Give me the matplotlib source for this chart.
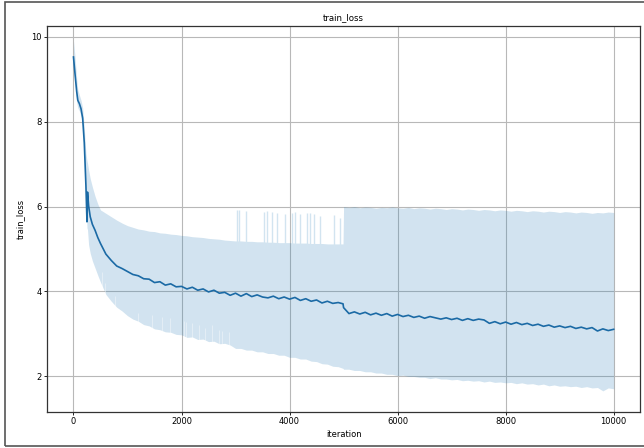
import numpy as np
import matplotlib
matplotlib.use('Agg')
import matplotlib.pyplot as plt
from matplotlib.patches import Rectangle

#iterations where the loss was sampled
iter_early = [0, 30, 60, 80, 110, 140, 170, 200, 230, 250, 260, 280, 310, 350, 400, 450]
iteration = np.array(iter_early + list(range(500, 5000, 100)) + [4990] + list(range(5000, 10001, 100)))

#mean train loss
mean_loss = [
    9.52, 9.10, 8.70, 8.50, 8.42, 8.30, 8.08, 7.50, 6.50, 5.64, 6.34, 6.02, 5.76, 5.58, 5.44, 5.27,
    5.13, 4.88, 4.73, 4.60, 4.54,
    4.47, 4.40, 4.37, 4.30, 4.29, 4.21, 4.23, 4.15, 4.18, 4.11,
    4.12, 4.06, 4.10, 4.03, 4.06, 3.99, 4.03, 3.96, 3.98, 3.91,
    3.96, 3.89, 3.95, 3.88, 3.92, 3.87, 3.85, 3.89, 3.83, 3.87,
    3.82, 3.86, 3.79, 3.83, 3.77, 3.80, 3.73, 3.77, 3.72, 3.74,
    3.71,
    3.62, 3.48, 3.52, 3.47, 3.51, 3.45, 3.49, 3.44, 3.48, 3.42,
    3.46, 3.41, 3.44, 3.39, 3.42, 3.37, 3.41, 3.38, 3.35, 3.38,
    3.34, 3.37, 3.32, 3.36, 3.32, 3.35, 3.33, 3.25, 3.29, 3.24,
    3.28, 3.23, 3.27, 3.22, 3.25, 3.20, 3.23, 3.18, 3.21, 3.16,
    3.19, 3.15, 3.18, 3.13, 3.16, 3.12, 3.15, 3.07, 3.12, 3.08,
    3.11]

#upper edge of the band
upper_loss = [
    9.90, 9.50, 9.00, 8.75, 8.62, 8.50, 8.32, 7.85, 7.25, 7.08, 7.02, 6.86, 6.66, 6.46, 6.24, 6.06,
    5.92, 5.84, 5.76, 5.68, 5.61,
    5.55, 5.51, 5.47, 5.45, 5.42, 5.41, 5.38, 5.37, 5.35, 5.34,
    5.32, 5.31, 5.29, 5.28, 5.27, 5.25, 5.24, 5.23, 5.21, 5.20,
    5.19, 5.19, 5.18, 5.18, 5.17, 5.17, 5.16, 5.16, 5.15, 5.15,
    5.15, 5.14, 5.14, 5.14, 5.13, 5.13, 5.13, 5.12, 5.12, 5.12,
    5.12,
    6.00, 5.98, 6.00, 5.97, 5.99, 5.98, 5.96, 5.98, 5.97, 5.99,
    5.97, 5.96, 5.98, 5.95, 5.97, 5.96, 5.94, 5.96, 5.95, 5.93,
    5.95, 5.94, 5.92, 5.94, 5.93, 5.91, 5.93, 5.92, 5.90, 5.92,
    5.91, 5.89, 5.91, 5.90, 5.88, 5.90, 5.89, 5.87, 5.89, 5.88,
    5.86, 5.88, 5.87, 5.85, 5.87, 5.86, 5.84, 5.86, 5.85, 5.87,
    5.86]

#lower edge of the band
lower_loss = [
    9.35, 8.90, 8.45, 8.32, 8.25, 8.12, 7.88, 7.20, 6.10, 5.50, 5.45, 5.10, 4.90, 4.72, 4.55, 4.38,
    4.22, 3.93, 3.77, 3.63, 3.54,
    3.43, 3.35, 3.30, 3.22, 3.19, 3.12, 3.10, 3.05, 3.04, 2.99,
    2.98, 2.92, 2.93, 2.87, 2.88, 2.82, 2.83, 2.77, 2.78, 2.74,
    2.66, 2.66, 2.62, 2.62, 2.58, 2.58, 2.54, 2.54, 2.50, 2.50,
    2.45, 2.45, 2.41, 2.41, 2.36, 2.35, 2.30, 2.29, 2.24, 2.23,
    2.19,
    2.17, 2.17, 2.14, 2.14, 2.11, 2.11, 2.08, 2.08, 2.05, 2.05,
    2.02, 2.03, 2.00, 2.00, 1.98, 1.98, 1.95, 1.97, 1.94, 1.94,
    1.92, 1.93, 1.90, 1.91, 1.89, 1.90, 1.87, 1.89, 1.86, 1.87,
    1.85, 1.86, 1.83, 1.85, 1.82, 1.83, 1.80, 1.82, 1.78, 1.80,
    1.77, 1.78, 1.76, 1.77, 1.74, 1.76, 1.73, 1.74, 1.66, 1.73,
    1.71]

#short spikes of the upper edge between 3000 and 5000
upper_spike_iter = [3030, 3070, 3190, 3520, 3590, 3670, 3770, 3920, 4050, 4110, 4190, 4320, 4380, 4460, 4570, 4830, 4940]
upper_spike_top = [5.92, 5.93, 5.90, 5.86, 5.90, 5.88, 5.85, 5.82, 5.84, 5.86, 5.83, 5.85, 5.84, 5.82, 5.78, 5.80, 5.74]

#short spikes of the lower edge between 500 and 3000
lower_spike_iter = [520, 590, 770, 1200, 1450, 1640, 1790, 2040, 2090, 2190, 2320, 2440, 2560, 2690, 2750, 2870]
lower_spike_base = [4.10, 3.85, 3.60, 3.25, 3.12, 3.05, 3.00, 2.90, 2.88, 2.85, 2.82, 2.80, 2.76, 2.73, 2.72, 2.70]
lower_spike_top = [4.45, 4.20, 3.90, 3.50, 3.45, 3.40, 3.38, 3.30, 3.28, 3.25, 3.22, 3.15, 3.20, 3.10, 3.08, 3.05]

line_color = '#1b6aa5'
band_color = '#1f77b4'

fig = plt.figure(figsize=(6.44, 4.48), dpi=100)
ax = fig.add_axes([0.073, 0.081, 0.921, 0.861])

#grey frame round the whole figure
fig.patches.append(Rectangle((0.008, 0.004), 1.0, 0.991, transform=fig.transFigure,
                             fill=False, edgecolor='#555555', linewidth=1.2))

ax.grid(True, color='#b8b8b8', linewidth=0.8)
ax.set_axisbelow(True)

ax.fill_between(iteration, lower_loss, upper_loss, color=band_color, alpha=0.2, linewidth=0)
ax.vlines(upper_spike_iter, 5.0, upper_spike_top, color='#d2e4f0', linewidth=1.0)
ax.vlines(lower_spike_iter, lower_spike_base, lower_spike_top, color='white', alpha=0.4, linewidth=0.7)
ax.plot(iteration, mean_loss, color=line_color, linewidth=1.2)

ax.set_xlim(-490, 10490)
ax.set_ylim(1.17, 10.25)
ax.set_xticks([0, 2000, 4000, 6000, 8000, 10000])
ax.set_yticks([2, 4, 6, 8, 10])

ax.set_title('train_loss', fontsize=6.2, pad=4)
ax.set_xlabel('iteration', fontsize=6, labelpad=3)
ax.set_ylabel('train_loss', fontsize=6, labelpad=4)
ax.tick_params(labelsize=6, length=2, width=0.6, pad=2)
for s in ax.spines.values():
    s.set_color('#333333')
    s.set_linewidth(0.9)

fig.savefig('out.png', dpi=100)
